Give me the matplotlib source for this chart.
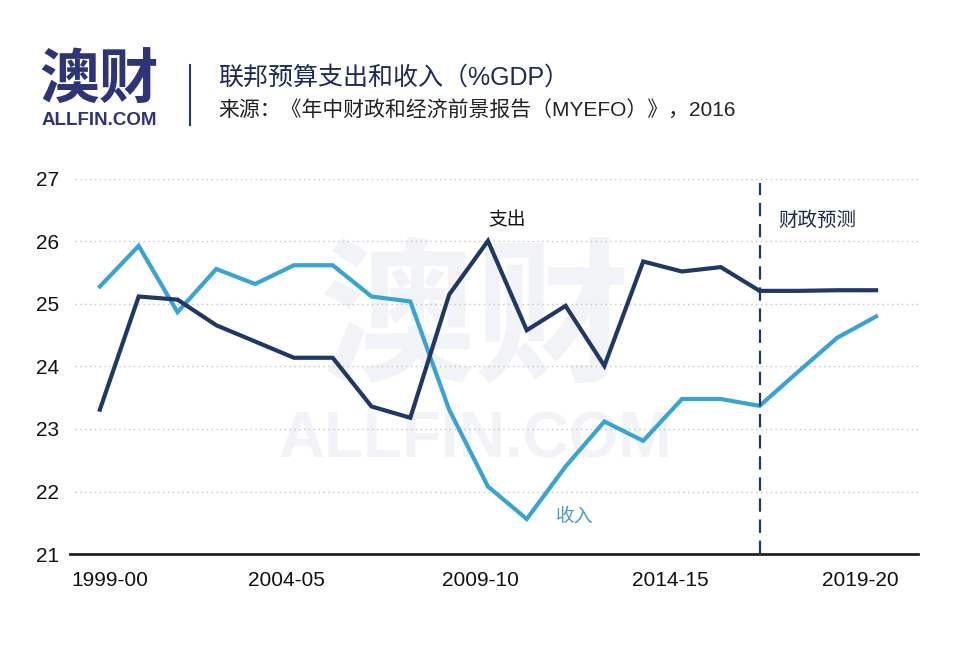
import matplotlib
matplotlib.use("Agg")
import matplotlib.pyplot as plt

plt.rcParams['font.family'] = ['Liberation Sans', 'Noto Sans CJK SC', 'DejaVu Sans']

# fiscal years 1999-00 .. 2019-20
years = ['1999-00', '2000-01', '2001-02', '2002-03', '2003-04', '2004-05', '2005-06',
         '2006-07', '2007-08', '2008-09', '2009-10', '2010-11', '2011-12', '2012-13',
         '2013-14', '2014-15', '2015-16', '2016-17', '2017-18', '2018-19', '2019-20']
spending = [23.31, 25.12, 25.07, 24.66, 24.40, 24.14, 24.14, 23.36, 23.18, 25.15, 26.01,
            24.58, 24.97, 24.01, 25.68, 25.52, 25.59, 25.21, 25.21, 25.22, 25.22]
revenue = [25.28, 25.93, 24.87, 25.56, 25.32, 25.62, 25.62, 25.12, 25.04, 23.31, 22.08,
           21.56, 22.40, 23.12, 22.81, 23.48, 23.48, 23.37, 23.92, 24.46, 24.80]
tick_labels = ['1999-00', '2004-05', '2009-10', '2014-15', '2019-20']
tick_pos = [0.25, 4.8, 9.8, 14.7, 19.6]
forecast_start = 17

NAVY = '#1f3864'
BLUE = '#39a4d3'
LOGO = '#2d3577'

fig = plt.figure(figsize=(9.6, 6.6), dpi=100)
ax = fig.add_axes([0.0729, 0.1606, 0.8833, 0.5682])
ax.set_facecolor('none')

x = list(range(len(years)))

# watermark, kept behind the axes
fig.text(0.495, 0.51, '澳财', fontsize=112, fontweight='bold', color='#f2f3f6',
         ha='center', va='center', family=['Noto Sans CJK SC'], zorder=-1)
fig.text(0.495, 0.333, 'ALLFIN.COM', fontsize=46, fontweight='bold', color='#f2f3f6',
         ha='center', va='center', zorder=-1)

ax.plot(x, revenue, color=BLUE, lw=3.0, solid_joinstyle='miter', zorder=3)
ax.plot(x, spending, color=NAVY, lw=3.0, solid_joinstyle='miter', zorder=4)

ax.axvline(forecast_start, ymin=0, ymax=0.99, color=NAVY, lw=1.6, ls=(0, (6, 3.5)), zorder=5)

ax.set_xlim(-0.77, 21.08)
ax.set_ylim(21, 27)
ax.set_yticks([21, 22, 23, 24, 25, 26, 27])
ax.set_xticks(tick_pos)
ax.set_xticklabels(tick_labels)
ax.tick_params(axis='both', length=0, labelsize=15, colors='#111111')
ax.tick_params(axis='y', pad=8)
ax.tick_params(axis='x', pad=12)

for v in [22, 23, 24, 25, 26, 27]:
    ax.axhline(v, xmin=0.006, xmax=1, color='#c4c4c4', lw=1.0, ls=(0, (1, 2.5)), zorder=1)

for s in ['top', 'right', 'left']:
    ax.spines[s].set_visible(False)
ax.spines['bottom'].set_color('#222222')
ax.spines['bottom'].set_linewidth(2)

ax.text(10.49, 26.33, '支出', fontsize=13.5, color='#111111', ha='center', va='center')
ax.text(12.24, 21.6, '收入', fontsize=13.5, color='#4a9ec2', ha='center', va='center')
ax.text(18.48, 26.33, '财政预测', fontsize=14, color='#1c2b4a', ha='center', va='center')

# header
fig.text(0.041, 0.876, '澳财', fontsize=43, fontweight='bold', color=LOGO,
         ha='left', va='center', family=['Noto Sans CJK SC'])
fig.text(0.043, 0.818, 'ALLFIN.COM', fontsize=13.5, fontweight='bold', color=LOGO,
         ha='left', va='center')
fig.add_artist(plt.Line2D([0.198, 0.198], [0.81, 0.902], color=LOGO, lw=1.5))
fig.text(0.227, 0.882, '联邦预算支出和收入（%GDP）', fontsize=18, color='#1a2a5a',
         ha='left', va='center')
fig.text(0.227, 0.834, '来源：《年中财政和经济前景报告（MYEFO）》，2016', fontsize=15,
         color='#222222', ha='left', va='center')

fig.savefig('out.png', dpi=100, facecolor='white')
